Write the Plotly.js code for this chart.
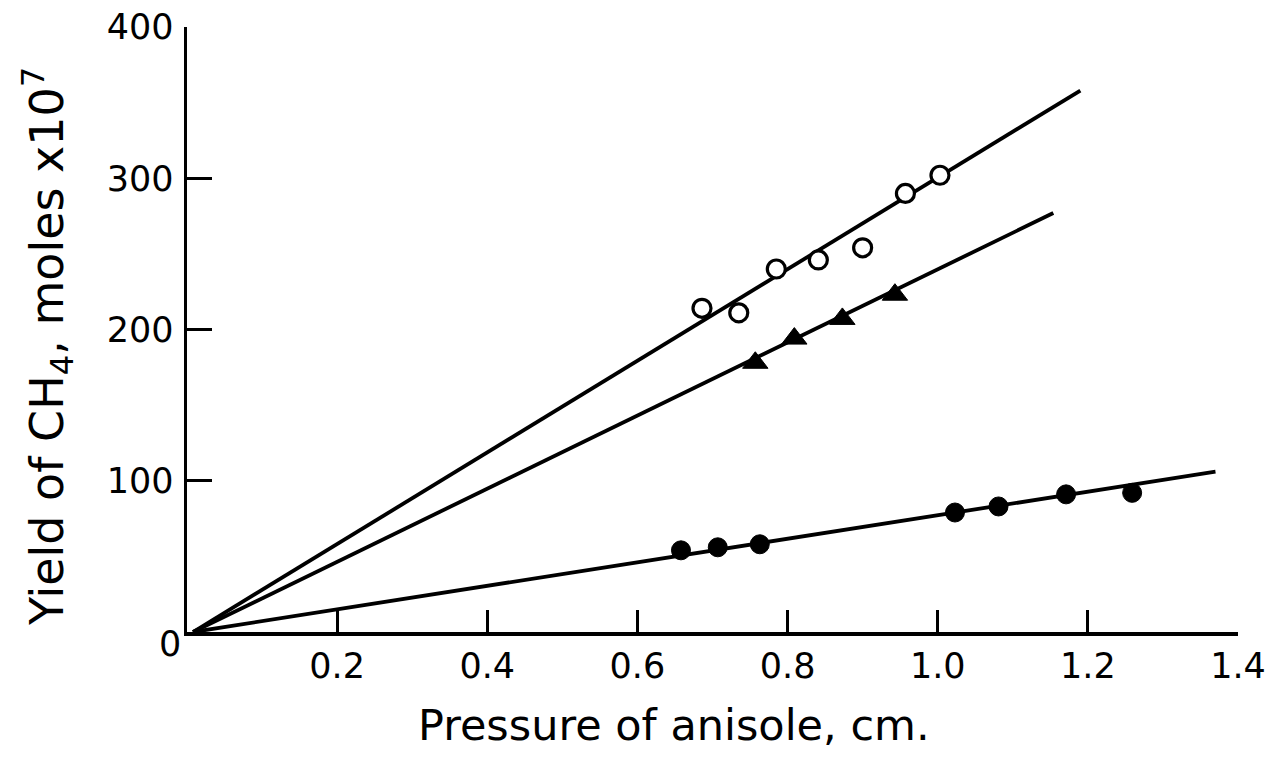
<!DOCTYPE html>
<html>
<head>
<meta charset="utf-8">
<script src="https://cdn.plot.ly/plotly-3.0.1.min.js"></script>
<style>html,body{margin:0;padding:0;background:#fff;}#chart{width:1283px;height:761px;}</style>
</head>
<body>
<div id="chart"></div>
<script>
// Open circles
const openX = [0.686, 0.735, 0.785, 0.841, 0.900, 0.957, 1.003];
const openY = [214, 211, 240, 246, 254, 290, 302];
// Filled triangles
const triX = [0.757, 0.809, 0.873, 0.943];
const triY = [178, 194, 207, 223];
// Filled circles
const dotX = [0.658, 0.707, 0.763, 1.023, 1.081, 1.171, 1.259];
const dotY = [54, 56, 58, 79, 83, 91, 92];
// Fitted lines through origin
const fitTopX = [0.008, 1.19];
const fitTopY = [0, 358];
const fitMidX = [0.008, 1.154];
const fitMidY = [0, 277];
const fitLowX = [0.008, 1.37];
const fitLowY = [0, 106];
// Tick labels
const xTicks = [0.2, 0.4, 0.6, 0.8, 1.0, 1.2, 1.4];
const xTickText = ['0.2', '0.4', '0.6', '0.8', '1.0', '1.2', '1.4'];
const yTicks = [100, 200, 300, 400];
const yTickText = ['100', '200', '300', '400'];

const FONT = 'DejaVu Sans, Liberation Sans, sans-serif';
const lineStyle = {color: '#000', width: 3.8};

const traces = [
  {x: fitTopX, y: fitTopY, mode: 'lines', line: lineStyle, hoverinfo: 'skip'},
  {x: fitMidX, y: fitMidY, mode: 'lines', line: lineStyle, hoverinfo: 'skip'},
  {x: fitLowX, y: fitLowY, mode: 'lines', line: lineStyle, hoverinfo: 'skip'},
  {x: openX, y: openY, mode: 'markers',
   marker: {symbol: 'circle', size: 18, color: '#fff', line: {color: '#000', width: 3.2}}},
  {x: triX, y: triY, mode: 'markers',
   marker: {symbol: 'triangle-up', size: 22, color: '#000', line: {color: '#000', width: 1}}},
  {x: dotX, y: dotY, mode: 'markers',
   marker: {symbol: 'circle', size: 19, color: '#000', line: {color: '#000', width: 1}}}
];

const layout = {
  width: 1283, height: 761,
  margin: {l: 187, r: 45, t: 27, b: 129, pad: 0},
  paper_bgcolor: '#fff', plot_bgcolor: '#fff',
  showlegend: false,
  font: {family: FONT, color: '#000', size: 35},
  xaxis: {
    range: [0, 1.4], showgrid: false, zeroline: false,
    showline: true, linecolor: '#000', linewidth: 3.5,
    ticks: 'inside', ticklen: 22, tickwidth: 3, tickcolor: '#000',
    tickvals: xTicks, ticktext: xTickText,
    tickfont: {family: FONT, size: 35, color: '#000'}
  },
  yaxis: {
    range: [0, 400], showgrid: false, zeroline: false,
    showline: true, linecolor: '#000', linewidth: 3.5,
    ticks: 'inside', ticklen: 25, tickwidth: 3, tickcolor: '#000',
    tickvals: yTicks, ticktext: yTickText, ticklabelstandoff: 3,
    tickfont: {family: FONT, size: 35, color: '#000'}
  },
  annotations: [
    {text: '0', x: 0, y: 0, xref: 'x', yref: 'y', showarrow: false,
     xshift: -17, yshift: -12, font: {family: FONT, size: 35, color: '#000'}},
    {text: 'Pressure of anisole, cm.', xref: 'paper', yref: 'paper',
     x: 0.463, y: -0.1537, xanchor: 'center', yanchor: 'middle', showarrow: false,
     font: {family: FONT, size: 43, color: '#000'}},
    {text: 'Yield of CH<sub>4</sub>, moles x10<sup>7</sup>', xref: 'paper', yref: 'paper',
     x: -0.1332, y: 0.471, xanchor: 'center', yanchor: 'middle', showarrow: false, textangle: -90,
     font: {family: FONT, size: 46, color: '#000'}}
  ]
};

Plotly.newPlot('chart', traces, layout, {staticPlot: true, displayModeBar: false});
</script>
</body>
</html>
